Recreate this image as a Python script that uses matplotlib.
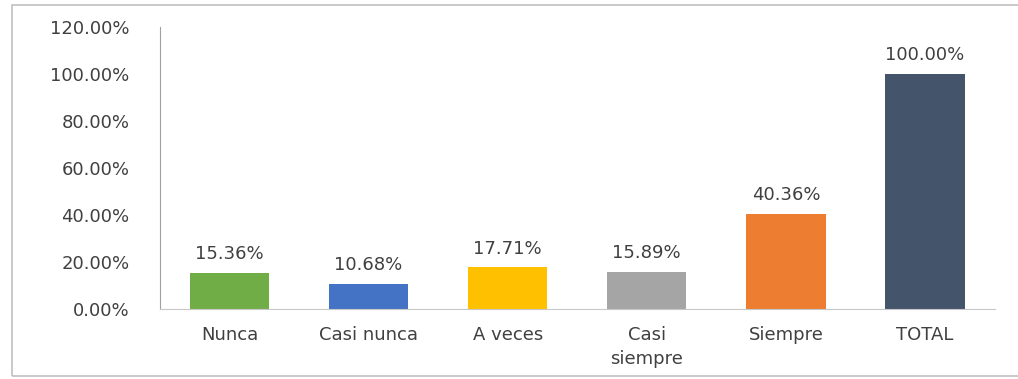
import matplotlib
matplotlib.use("Agg")
import matplotlib.pyplot as plt
from matplotlib.patches import Rectangle

categories = ["Nunca", "Casi nunca", "A veces", "Casi\nsiempre", "Siempre", "TOTAL"]
values = [15.36, 10.68, 17.71, 15.89, 40.36, 100.00]
colors = ["#70AD47", "#4472C4", "#FFC000", "#A5A5A5", "#ED7D31", "#44546A"]
yticks = [0, 20, 40, 60, 80, 100, 120]

plt.rcParams['font.family'] = ['DejaVu Sans']
fig = plt.figure(figsize=(10.18, 3.79), dpi=100)
ax = fig.add_axes([0.157, 0.185, 0.820, 0.744])

x = list(range(len(categories)))
bars = ax.bar(x, values, width=0.57, color=colors)
for xi, v in zip(x, values):
    ax.annotate(f"{v:.2f}%", (xi, v), xytext=(0, 7), textcoords="offset points",
                ha="center", va="bottom", fontsize=13, color="#404040")

ax.set_xlim(-0.5, len(categories) - 0.5)
ax.set_ylim(0, 120)
ax.set_yticks(yticks)
ax.set_yticklabels([f"{t:.2f}%" for t in yticks], fontsize=13, color="#404040")
ax.set_xticks(x)
ax.set_xticklabels(categories, fontsize=13, color="#404040", va="top", linespacing=1.45)
ax.tick_params(axis="both", length=0)
ax.tick_params(axis="x", pad=12)
ax.tick_params(axis="y", pad=22)
for s in ["top", "right"]:
    ax.spines[s].set_visible(False)
ax.spines["left"].set_color("#A0A0A0")
ax.spines["bottom"].set_color("#C8C8C8")

fig.patches.append(Rectangle((12/1018, 3/379), 1.2, 371/379, transform=fig.transFigure,
                             fill=False, edgecolor="#C0C0C0", linewidth=1.2))

fig.savefig("out.png", dpi=100)
